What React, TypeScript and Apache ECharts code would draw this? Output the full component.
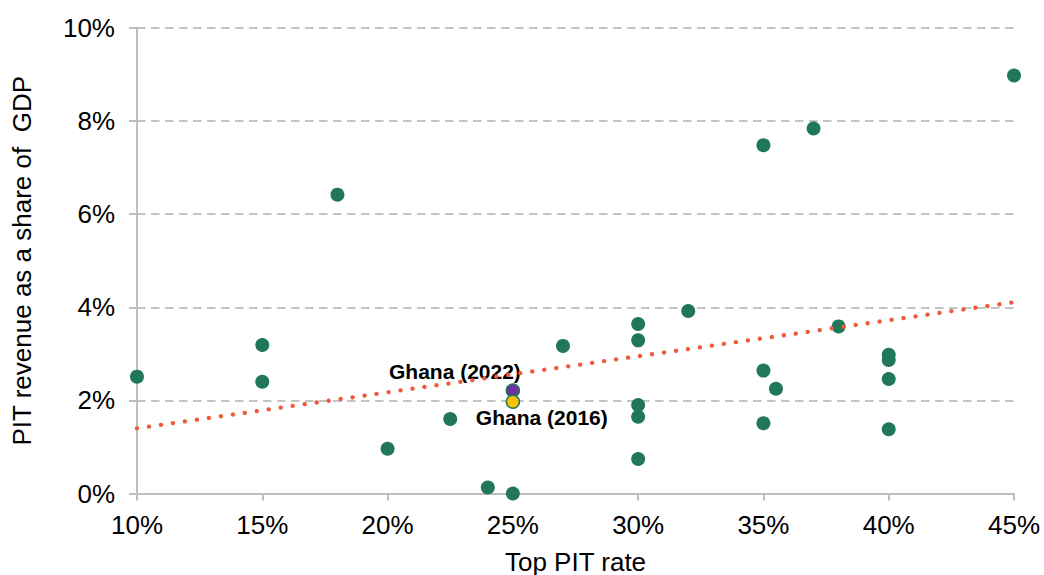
import React, { useEffect, useRef } from "react";
import * as echarts from "echarts";

// Top PIT rate (%) and PIT revenue as share of GDP (%)
const topRate = [10, 15, 15, 18, 20, 22.5, 24, 25, 27, 30, 30, 30, 30, 30, 32, 35, 35, 35, 35.5, 37, 38, 40, 40, 40, 40, 45];
const pitShare = [2.51, 3.19, 2.40, 6.42, 0.96, 1.60, 0.13, 0.0, 3.17, 3.64, 3.29, 1.90, 1.65, 0.74, 3.92, 7.48, 2.64, 1.51, 2.25, 7.84, 3.59, 2.98, 2.87, 2.46, 1.38, 8.98];

const ghana2022 = [25, 2.21];
const ghana2016 = [25, 1.97];

const trendX = [10, 45];
const trendY = [1.40, 4.11];

const xTicks = [10, 15, 20, 25, 30, 35, 40, 45];
const yTicks = [0, 2, 4, 6, 8, 10];

const FONT = "Liberation Sans, Arial, sans-serif";
const GREEN = "#217858";

export default function App() {
  const ref = useRef<HTMLDivElement>(null);
  useEffect(() => {
    if (!ref.current) return;
    const chart = echarts.init(ref.current, undefined, { renderer: "svg" });
    chart.setOption({
      animation: false,
      backgroundColor: "#ffffff",
      textStyle: { fontFamily: FONT },
      grid: { left: 137, right: 30, top: 28, bottom: 81.5, containLabel: false, outerBoundsMode: "none" },
      xAxis: {
        type: "value",
        min: xTicks[0],
        max: xTicks[xTicks.length - 1],
        interval: 5,
        name: "Top PIT rate",
        nameLocation: "middle",
        nameGap: 55,
        nameTextStyle: { fontSize: 26, color: "#000", fontFamily: FONT },
        axisLine: { show: true, lineStyle: { color: "#BFBFBF", width: 2 } },
        axisTick: { show: true, length: 7, lineStyle: { color: "#BFBFBF", width: 2 } },
        axisLabel: { fontSize: 26, color: "#000", margin: 18, fontFamily: FONT, formatter: (v: number) => `${v}%` },
        splitLine: { show: false },
      },
      yAxis: {
        type: "value",
        min: yTicks[0],
        max: yTicks[yTicks.length - 1],
        interval: 2,
        name: "PIT revenue as a share of  GDP",
        nameLocation: "middle",
        nameRotate: 90,
        nameGap: 102,
        nameTextStyle: { fontSize: 26, color: "#000", fontFamily: FONT },
        axisLine: { show: true, lineStyle: { color: "#BFBFBF", width: 2 } },
        axisTick: { show: true, length: 8, lineStyle: { color: "#BFBFBF", width: 2 } },
        axisLabel: { fontSize: 26, color: "#000", margin: 22, fontFamily: FONT, formatter: (v: number) => `${v}%` },
        splitLine: { show: true, lineStyle: { color: "#C4C4C4", width: 2, type: [8.5, 5.5] } },
      },
      series: [
        {
          type: "scatter",
          data: topRate.map((x, i) => [x, pitShare[i]]),
          symbolSize: 14,
          itemStyle: { color: GREEN, opacity: 1 },
          z: 2,
        },
        {
          type: "scatter",
          data: [ghana2022],
          symbolSize: 13,
          itemStyle: { color: "#7030A0", borderColor: GREEN, borderWidth: 1.5, opacity: 1 },
          label: {
            show: true,
            formatter: "Ghana (2022)",
            position: "top",
            align: "right",
            offset: [8, 4],
            fontSize: 21,
            fontWeight: "bold",
            color: "#000",
            opacity: 1,
            fontFamily: FONT,
          },
          z: 3,
        },
        {
          type: "scatter",
          data: [ghana2016],
          symbolSize: 13,
          itemStyle: { color: "#FFC000", borderColor: GREEN, borderWidth: 1.5, opacity: 1 },
          label: {
            show: true,
            formatter: "Ghana (2016)",
            position: "bottom",
            align: "left",
            offset: [-37, -7],
            fontSize: 21,
            fontWeight: "bold",
            color: "#000",
            opacity: 1,
            fontFamily: FONT,
          },
          z: 3,
        },
        {
          type: "line",
          data: trendX.map((x, i) => [x, trendY[i]]),
          showSymbol: false,
          symbol: "none",
          lineStyle: { color: "#EE5A3C", width: 4.3, type: [0.1, 12], cap: "round" },
          z: 4,
          silent: true,
        },
      ],
    });
    return () => chart.dispose();
  }, []);
  return <div ref={ref} style={{ position: "fixed", left: 0, top: 0, width: 1044, height: 575 }} />;
}
